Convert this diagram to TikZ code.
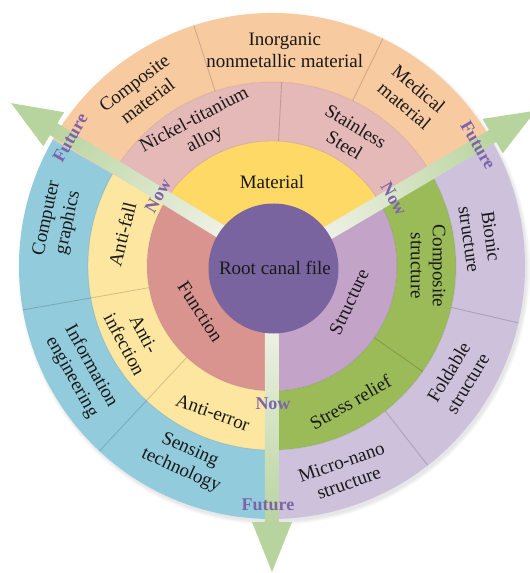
\documentclass[tikz,border=0pt]{standalone}
\usepackage{fontspec}
\setmainfont{Liberation Serif}
\definecolor{cpurple}{RGB}{122,100,160}
\definecolor{cyellow}{RGB}{254,217,102}
\definecolor{csalmon}{RGB}{217,148,144}
\definecolor{cmauve}{RGB}{196,163,200}
\definecolor{cpink}{RGB}{229,185,183}
\definecolor{corange}{RGB}{248,202,160}
\definecolor{clyellow}{RGB}{253,231,160}
\definecolor{cblue}{RGB}{146,204,220}
\definecolor{cgreen}{RGB}{155,187,89}
\definecolor{clav}{RGB}{205,193,220}
\definecolor{futpurple}{RGB}{125,100,170}
\definecolor{agreen}{RGB}{184,212,158}
\definecolor{awhite}{RGB}{244,244,236}
\newcommand{\ringseg}[5]{%
  \fill[#1] (#2:#4) arc[start angle=#2, end angle=#3, radius=#4] -- (#3:#5) arc[start angle=#3, end angle=#2, radius=#5] -- cycle;}
\newcommand{\divline}[3]{\draw[divln] (#1:#2) -- (#1:#3);}
\newcommand{\trendarrow}[2]{%
  \begin{scope}[transform canvas={shift={(0,#2)}}]
  \shade[transform canvas={rotate=#1}, left color=awhite, right color=agreen] (40,-7) rectangle (258,7);
  \fill[agreen, transform canvas={rotate=#1}] (256,-20) -- (306,0) -- (256,20) -- cycle;
  \end{scope}}
\begin{document}
\begin{tikzpicture}[x=1pt,y=1pt,
  lab/.style={font=\fontsize{19}{22}\selectfont, align=center, text=black!90, inner sep=0pt},
  tl/.style={font=\fontsize{18}{20}\selectfont\bfseries, text=futpurple, inner sep=0pt},
  divln/.style={draw=black, draw opacity=0.16, line width=0.9pt}]
\useasboundingbox (-272,-307) rectangle (258,266);
% soft shadow
\foreach \k in {1,2,3,4} {\fill[black, opacity=0.025] (2,-3) circle (252+\k);}
% inner ring
\ringseg{cyellow}{30}{150}{0}{125}
\ringseg{csalmon}{150}{270}{0}{125}
\ringseg{cmauve}{-90}{30}{0}{125}
% middle ring
\ringseg{cpink}{30}{150}{125}{184}
\ringseg{clyellow}{150}{270}{125}{184}
\ringseg{cgreen}{-90}{30}{125}{184}
% outer ring
\ringseg{corange}{30}{150}{184}{253}
\ringseg{cblue}{150}{270}{184}{253}
\ringseg{clav}{-90}{30}{184}{253}
% ring edges
\draw[divln, draw opacity=0.08] (0,0) circle (125);
\draw[divln, draw opacity=0.08] (0,0) circle (184);
% dividers
\divline{64}{184}{253}
\divline{108}{184}{253}
\divline{87}{125}{184}
\divline{190}{125}{253}
\divline{227}{125}{253}
\divline{-35}{125}{184}
\divline{-13}{184}{253}
\divline{-52}{184}{253}
% arrows
\trendarrow{148.5}{3}
\trendarrow{30.5}{0}
\trendarrow{270}{0}
% centre
\fill[cpurple] (1.5,-2.5) circle (65);
\node[lab] (root) at (3,-2) {Root canal file};
% inner labels
\node[lab] (material) at (90:84) {Material};
\node[lab, rotate=-57] (function) at (212.6:85) {Function};
\node[lab, rotate=65] (structure) at (-25:85) {Structure};
% middle labels
\node[lab, rotate=28] (niti) at (118:154) {Nickel-titanium\\alloy};
\node[lab, rotate=-31] (steel) at (59:152) {Stainless\\Steel};
\node[lab, rotate=-90] (compstruct) at (0:156) {Composite\\structure};
\node[lab, rotate=30] (stress) at (-60:157) {Stress relief};
\node[lab, rotate=76] (antifall) at (168:153) {Anti-fall};
\node[lab, rotate=-62] (antiinf) at (208:156) {Anti-\\infection};
\node[lab, rotate=-20] (antierr) at (248:158) {Anti-error};
% outer labels
\node[lab, rotate=37] (compmat) at (127:218) {Composite\\material};
\node[lab] (inorg) at (86.6:216) {Inorganic\\nonmetallic material};
\node[lab, rotate=-40] (medmat) at (50.4:219) {Medical\\material};
\node[lab, rotate=78] (cg) at (168:219) {Computer\\graphics};
\node[lab, rotate=-61] (infoeng) at (209:218) {Information\\engineering};
\node[lab, rotate=-24] (sensing) at (246:213) {Sensing\\technology};
\node[lab, rotate=-82] (bionic) at (7.7:210) {Bionic\\structure};
\node[lab, rotate=59] (foldable) at (-31:217) {Foldable\\structure};
\node[lab, rotate=19.5] (micronano) at (-70.5:219) {Micro-nano\\structure};
% now / future
\node[tl, rotate=60] (nowL) at (148.5:134) {Now};
\node[tl, rotate=60] (futL) at (147.6:239) {Future};
\node[tl, rotate=-60] (nowR) at (28.8:139) {Now};
\node[tl, rotate=-60] (futR) at (30.4:239) {Future};
\node[tl] (nowB) at (1,-138) {Now};
\node[tl] (futB) at (-4,-239) {Future};
\end{tikzpicture}
\end{document}
